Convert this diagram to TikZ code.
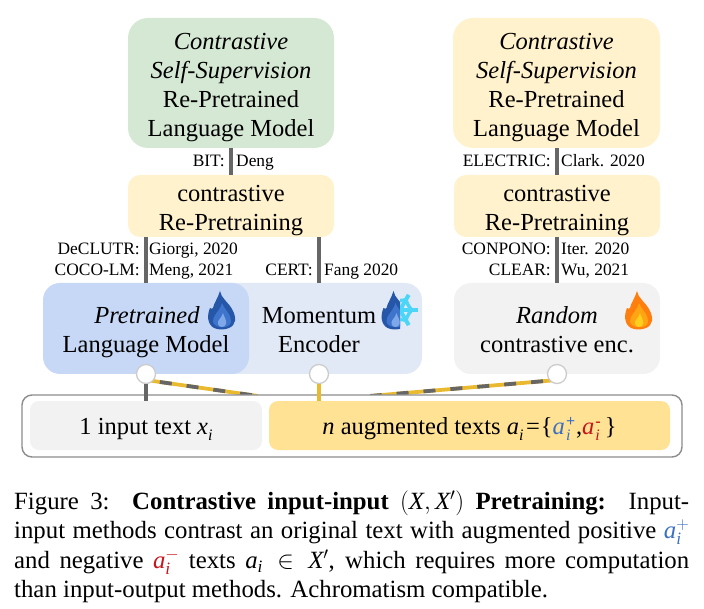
\documentclass[tikz,border=0pt]{standalone}
\usepackage{fontspec}
\setmainfont{Liberation Serif}
\usetikzlibrary{calc}
\definecolor{greenbox}{HTML}{D5E8D4}
\definecolor{creambox}{HTML}{FFF2CC}
\definecolor{bluebox}{HTML}{C6D8F5}
\definecolor{paleblue}{HTML}{E1E9F7}
\definecolor{greybox}{HTML}{F2F2F2}
\definecolor{goldbox}{HTML}{FFE293}
\definecolor{linegrey}{HTML}{666666}
\definecolor{linegold}{HTML}{E9B92F}
\definecolor{ringgrey}{HTML}{CCCCCC}
\definecolor{posblue}{HTML}{3B6FC4}
\definecolor{negred}{HTML}{C8141B}
\definecolor{flameblueA}{HTML}{2556A8}
\definecolor{flameblueB}{HTML}{3F74CC}
\definecolor{flameblueC}{HTML}{7FA8E8}
\definecolor{flameorangeA}{HTML}{FF7F0E}
\definecolor{flameorangeB}{HTML}{FFA412}
\definecolor{flameorangeC}{HTML}{FFCF1E}
\definecolor{icecyan}{HTML}{4DD5F8}
\newcommand{\mainsize}{\fontsize{24.5}{29}\selectfont}
\newcommand{\tagsize}{\fontsize{17.4}{20}\selectfont}
\newcommand{\capsize}{\fontsize{24.8}{29.5}\selectfont}
\newcommand{\subsize}{\fontsize{16}{16}\selectfont}
\newcommand{\topgap}[1]{\rule{0pt}{#1pt}}
% flame glyph: outer body, middle tongue and core; top-left corner at the current origin
\newcommand{\flameicon}[3]{%
  \fill[#1] (12,0) .. controls (13,7) and (20,11) .. (24,18)
    .. controls (29,27) and (28,34) .. (21,37) .. controls (17,39) and (10,39) .. (6,37)
    .. controls (-1,33) and (-1,24) .. (2,17) .. controls (3,18) and (4,18) .. (5,17)
    .. controls (6,12) and (10,7) .. (12,0) -- cycle;
  \fill[#2] (14,12) .. controls (16,18) and (24,24) .. (23,31)
    .. controls (22,38) and (7,38) .. (5,31) .. controls (4,25) and (12,20) .. (14,12) -- cycle;
  \fill[#3] (15,22) .. controls (16,26) and (19,29) .. (18,33)
    .. controls (17,37) and (11,37) .. (10,33) .. controls (9,29) and (14,27) .. (15,22) -- cycle;
}
\tikzset{
  box/.style={draw=none,rounded corners=#1,inner sep=0pt,align=center,font=\mainsize},
  box/.default=17pt,
  plain/.style={inner sep=0pt,align=center,font=\mainsize},
  tagl/.style={inner sep=0pt,anchor=base east,font=\tagsize},
  tagr/.style={inner sep=0pt,anchor=base west,font=\tagsize},
  link/.style={draw=linegrey,line width=3.8pt},
  goldlink/.style={draw=linegold,line width=3.8pt},
  stripe/.style={draw=linegrey,line width=3.8pt,dash pattern=on 12pt off 15pt},
  ring/.style={circle,draw=ringgrey,fill=white,line width=1.3pt,minimum size=19pt,inner sep=0pt},
}
\begin{document}
\begin{tikzpicture}[x=1pt,y=-1pt]
\useasboundingbox (0,0) rectangle (704,609);
% pretrained models at the top of each branch
\node[box=20pt,fill=greenbox,minimum width=206pt,minimum height=130pt] (greenm) at (231,83)
  {\topgap{26}\textit{Contrastive}\\\textit{Self-Supervision}\\Re-Pretrained\\Language Model};
\node[box=20pt,fill=creambox,minimum width=207pt,minimum height=130pt] (creamm) at (556.5,83)
  {\topgap{26}\textit{Contrastive}\\\textit{Self-Supervision}\\Re-Pretrained\\Language Model};
% re-pretraining steps
\node[box=12pt,fill=creambox,minimum width=206pt,minimum height=62pt] (rpa) at (231,206)
  {\topgap{26}contrastive\\Re-Pretraining};
\node[box=12pt,fill=creambox,minimum width=206pt,minimum height=62pt] (rpb) at (557,206)
  {\topgap{26}contrastive\\Re-Pretraining};
% encoders
\node[box=17pt,fill=paleblue,minimum width=222pt,minimum height=91pt] (mom) at (311,328.5) {};
\node[box=17pt,fill=bluebox,minimum width=206pt,minimum height=91pt] (pre) at (146,328.5) {};
\node[box=17pt,fill=greybox,minimum width=206pt,minimum height=91pt] (rnd) at (557,328.5) {};
\node[plain] (pretext) at (146,332.5) {\hspace*{2pt}\textit{Pretrained}\\Language Model};
\node[plain] (momtext) at (319,330.5) {Momentum\\Encoder};
\node[plain] (rndtext) at (557,329.5) {\textit{Random}\\contrastive enc.};
% flame and snowflake glyphs
\begin{scope}[shift={(208,291)}]\flameicon{flameblueA}{flameblueB}{flameblueC}\end{scope}
\begin{scope}
  \clip (375,285) rectangle (400,335);
  \begin{scope}[shift={(381.5,291)}]\flameicon{flameblueA}{flameblueB}{flameblueC}\end{scope}
\end{scope}
\begin{scope}
  \clip (400,285) rectangle (425,335);
  \begin{scope}[shift={(400,310)}]
    \foreach \a in {0,60,120,180,240,300}{
      \begin{scope}[rotate=\a]
        \draw[draw=icecyan,line width=4pt] (0,0) -- (17.5,0);
        \draw[draw=icecyan,line width=3pt] (7,-6.5) -- (12,0) -- (7,6.5);
      \end{scope}
    }
  \end{scope}
\end{scope}
\begin{scope}[shift={(625,291)}]\flameicon{flameorangeA}{flameorangeB}{flameorangeC}\end{scope}
% frame with the two kinds of input
\coordinate (fadea) at (146,380);
\coordinate (fadeb) at (258,396);
\coordinate (fadec) at (557,380);
\coordinate (faded) at (370,396);
\draw[goldlink] (fadea) -- (fadeb);
\draw[stripe,dash phase=-14pt] (fadea) -- (fadeb);
\draw[goldlink] (fadec) -- (faded);
\draw[stripe,dash phase=-14pt] (fadec) -- (faded);
\node[draw=black!45,line width=1.4pt,fill=white,rounded corners=10pt,minimum width=660pt,minimum height=62pt,inner sep=0pt] (frame) at (352,426) {};
\node[box=9pt,fill=greybox,minimum width=232pt,minimum height=49pt] (input) at (146,425.5)
  {\topgap{24}1 input text \textit{x}\raisebox{-6pt}{\subsize\textit{i}}};
\node[box=9pt,fill=goldbox,minimum width=401pt,minimum height=49pt] (aug) at (469.5,425.5)
  {\topgap{24}\textit{n} augmented texts \textit{a}\raisebox{-6pt}{\subsize\textit{i}\,}={\kern1pt}\{\textcolor{posblue}{\textit{a}\kern1pt\rlap{\raisebox{-6pt}{\subsize\textit{i}}}\raisebox{8pt}{\subsize\textbf{+}}}\kern1pt,\textcolor{negred}{\textit{a}\kern1pt\rlap{\raisebox{-6pt}{\subsize\textit{i}}}\raisebox{8pt}{\subsize\textbf{-}}}\kern4pt\}};
% connectors
\draw[link] (greenm) -- (rpa);
\draw[link] (creamm.south -| rpb) -- (rpb);
\draw[link] (rpa.south -| pre) -- (pre.north);
\draw[link] (rpa.south -| momtext) -- (mom.north -| momtext);
\draw[link] (rpb) -- (rnd);
\node[ring] (ca) at (146,374) {};
\node[ring] (cb) at (319,374) {};
\node[ring] (cc) at (557,374) {};
\draw[link] (ca) -- (input.north -| ca);
\draw[goldlink] (cb) -- (aug.north -| cb);
% citation labels
\node[tagl] (l1) at (225,167) {BIT:};
\node[tagr] (r1) at (236,167) {Deng};
\node[tagl] (l2) at (551,167) {ELECTRIC:};
\node[tagr] (r2) at (561,167) {Clark. 2020};
\node[tagl] (l3) at (140,255) {DeCLUTR:};
\node[tagr] (r3) at (149,255) {Giorgi, 2020};
\node[tagl] (l4) at (140,276) {COCO-LM:};
\node[tagr] (r4) at (149,276) {Meng, 2021};
\node[tagl] (l5) at (313,276) {CERT:};
\node[tagr] (r5) at (324,276) {Fang 2020};
\node[tagl] (l6) at (551,255) {CONPONO:};
\node[tagr] (r6) at (561,255) {Iter. 2020};
\node[tagl] (l7) at (551,276) {CLEAR:};
\node[tagr] (r7) at (561,276) {Wu, 2021};
% caption
\node[inner sep=0pt,anchor=north west,text width=675pt,align=justify,font=\capsize] (cap) at (14,490.5)
  {Figure 3:\ \ \textbf{Contrastive input-input} $(\mathit{X},\mathit{X}')$ \textbf{Pretraining:}\ \ Input-\linebreak
   input methods contrast an original text with augmented positive $\textcolor{posblue}{\mathit{a}_{\mathit{i}}^{+}}$\linebreak
   and negative $\textcolor{negred}{\mathit{a}_{\mathit{i}}^{-}}$ texts $\mathit{a}_{\mathit{i}}\in\mathit{X}'$, which requires more computation\linebreak
   than input-output methods. Achromatism compatible.\par};
\end{tikzpicture}
\end{document}
